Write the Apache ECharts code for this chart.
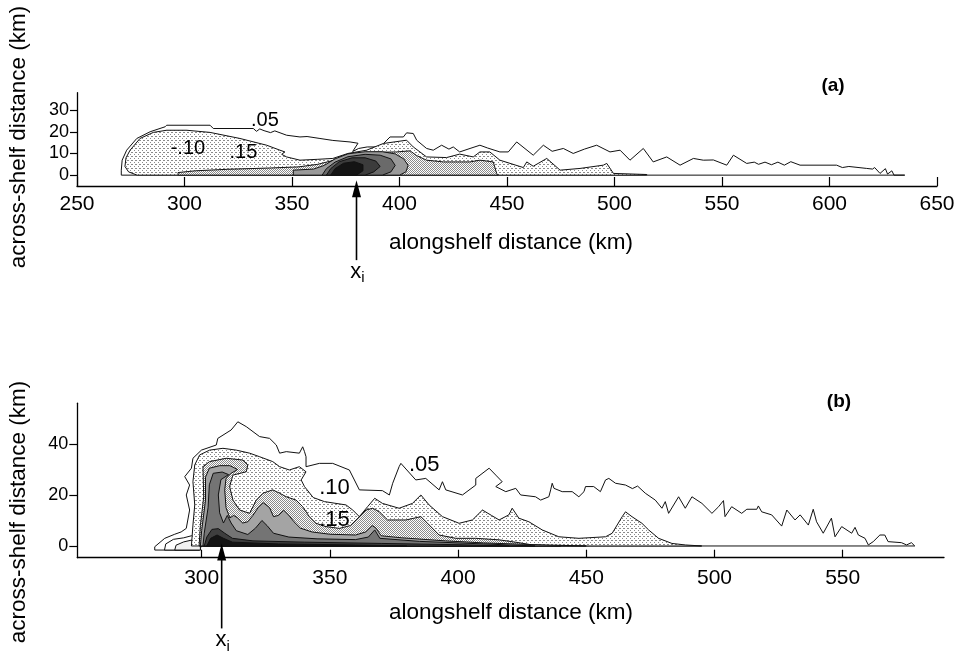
<!DOCTYPE html>
<html><head><meta charset="utf-8">
<script src="https://cdn.jsdelivr.net/npm/echarts@6/dist/echarts.min.js"></script>
<style>html,body{margin:0;padding:0;background:#fff}#c{width:959px;height:654px}</style>
</head><body><div id="c"></div>
<script>
// ---------- tick labels ----------
const xTicksA = [250,300,350,400,450,500,550,600,650];
const yTicksA = [0,10,20,30];
const xTicksB = [300,350,400,450,500,550];
const yTicksB = [0,20,40];

// ---------- panel (a) contours (alongshelf km, across-shelf km) ----------
const contourA05 = [[270.6,0],[270.6,2.3],[271,6.9],[273.1,11.5],[277.8,16.9],[284,20],[291,22.3],[291.7,23],[311.9,23],[313.4,21.5],[332,21.5],[333.5,20.2],[335,21.3],[337,20.5],[340,19.6],[342,20.4],[347.5,18.4],[353.7,17.6],[357,17.8],[363,16.9],[369,16],[377,15.3],[380.7,14.7],[378.2,10.9],[381,12.3],[385,13],[391,13],[395.6,17.6],[401.8,17.6],[403.3,19.5],[406.4,19.2],[408,16.1],[412.6,12.3],[415.7,11.5],[419.6,13.8],[423,12],[425,13],[428,10.7],[432.8,12.3],[437.4,13.8],[441,12.5],[446.7,10.7],[450.6,10.7],[454.5,15.3],[462.2,9.2],[466.9,13.8],[471,11],[476.2,12.3],[480.8,10],[486,12],[491.7,13.8],[497.9,10.7],[502.6,11.5],[507.2,6.9],[513.4,12.3],[518,6.1],[524.3,8.4],[530.5,4.6],[536.7,7.7],[541.3,6.9],[546,7],[552.2,4.6],[555.3,9.2],[561.5,5.4],[565,6],[567,5],[570,6],[573,4.8],[576,6],[579,4.6],[582,6.2],[586.3,4.6],[603.3,4.6],[606,3.5],[609,4],[617.3,3.1],[620,2.8],[621,3.5],[623.5,0.8],[626,3],[627,0.5],[629,2],[630,0],[635,0]];
const contourA10 = [[278,0],[274,1.5],[272.3,4],[272.8,8],[274.7,11.5],[279.3,16.9],[285.5,19.7],[291.7,20.7],[301,20.7],[311.9,19.7],[325.8,16.9],[338.2,13.8],[344.4,11.5],[346.7,10.7],[345.2,9.6],[347.5,8.4],[353.7,6.9],[362,7.3],[369,7.7],[376,10],[384.7,11.5],[392.5,14.6],[403.3,16.1],[406.4,13],[412.6,8.4],[421.9,8.1],[428,9.7],[434.3,8.4],[437.4,10.7],[442,10.7],[446.7,6.9],[457.6,3.5],[459.2,6.1],[462.2,4.1],[468.5,7.7],[474.7,2.3],[484,3.1],[494.8,4.6],[496.4,5.4],[499.5,0.8],[515,0.3],[515,0]];
const contourA15 = [[297,0],[297,1.2],[305,2],[320,2.7],[340,3.3],[353,3.8],[362,5],[370,7],[378,9],[388,10.5],[398.6,10.7],[404.9,11.2],[408,9],[412.6,6.9],[420.4,6.1],[432.8,6.1],[437.4,6.9],[443.6,6.1],[445.2,0.8],[446,0]];
const contourA20 = [[350.6,0],[350.6,2.3],[360,2.8],[365,4.5],[370,7.5],[376,9.8],[384,10.8],[392,10.8],[398,9.8],[402,7.5],[404,4.5],[403,1.5],[400,0]];
const contourA25 = [[364,0],[366,3],[370,6],[376,8.5],[384,9.6],[391,9.2],[396,7.5],[398,4.5],[396,1.5],[392,0]];
const contourA30 = [[366,0],[368,3],[372,6.2],[378,8],[384,8],[389,6.5],[391,4],[388,1.5],[384,0]];
const contourA40 = [[368,0],[370,3],[374,5.5],[379,6.2],[383,4.8],[383,2],[380,0]];

// ---------- panel (b) contours ----------
const contourB05 = [[281.7,-1.6],[281.7,-0.3],[285.6,3],[289.5,4.6],[292,5.5],[294,6.9],[295.3,14.1],[294,20],[295.3,23.9],[293.4,27.2],[296,30.5],[296.6,34.4],[299.9,37.6],[305.7,39.6],[306.3,42.2],[311.5,45.5],[314.1,48.7],[317.4,46.8],[322.6,42.9],[326.5,42.2],[329.1,39.6],[330.4,36.4],[333,37],[338.1,36.4],[339.4,38.9],[340.1,37],[340.7,35],[340.7,31.1],[345.9,32.4],[351.1,32.4],[357.6,29.8],[361.5,22],[370.5,21.7],[373.2,20],[374.5,24.6],[377,31.1],[377.7,32.4],[383.5,25.9],[387.4,26.5],[392.6,22],[393.9,25.2],[395.2,22],[401.7,20],[406.9,23.9],[406.9,26.5],[412.1,30.5],[414.7,27.8],[417.2,25.2],[414.7,23.3],[418.6,21.3],[422.5,22.6],[424.4,20],[430.2,19.3],[432.2,18],[435.4,19.3],[436.1,22],[436.7,24.6],[437.4,22.6],[440.6,21.3],[444.5,21.3],[447.1,19.3],[449.1,21.3],[449.7,23.3],[452.9,23.3],[455.5,21.3],[457.5,25.9],[458.8,26.5],[461.4,24.6],[465.3,23.9],[468,22.5],[470,23.5],[473,20.7],[476.9,18],[479.5,14.8],[480.8,17.4],[482.1,12.8],[486,19.3],[488.6,14.8],[491.2,19.3],[495.1,16.7],[499,12.8],[501.6,15.4],[503.5,17.8],[504.1,11.5],[506.7,15.4],[510.6,12.8],[512.6,14.4],[516.5,14.4],[517.1,15.7],[518.4,13.4],[522.3,12.2],[526.2,7.8],[528.2,14.1],[531.4,10.2],[533.4,12.2],[536.6,8.2],[538.5,14.4],[539.8,9.5],[542.4,5],[545.6,10.9],[547,3.6],[549.6,7.6],[553.5,5],[554.8,7.3],[556.1,4.3],[558.7,3],[560,0.4],[561.9,1.7],[564.5,4.3],[566.4,4.3],[567.7,1.7],[572.9,1.3],[574.9,0.4],[576.8,1.3],[578.1,0],[300,0],[299,-1.6]];
const stepB1 = [[285.5,-1.6],[286,0.8],[289,2.6],[293,3.2],[296,4],[299,4.6],[299.5,-1.6]];
const stepB2 = [[289.5,-1.6],[290,0.3],[293,1.6],[296.5,2.4],[299.5,2.8],[299.5,-1.6]];
const contourB10 = [[296,0],[296.6,8.2],[297.3,16.1],[296.6,25.2],[297.3,31.8],[299.2,35.7],[303.1,37.6],[308.3,38.3],[313.5,37.6],[318.7,36.4],[322.6,35],[327.7,33.1],[330.4,31.1],[334.2,29.8],[338.1,31.1],[340.7,29.1],[338.8,25.9],[340.1,23.3],[343.5,19],[347.9,17.4],[352.4,16.7],[356.3,16.1],[358.9,14.1],[361.5,11.5],[364.7,15.4],[367.5,18.7],[370.5,16.7],[377,14.8],[382.2,16.7],[385.5,20],[388.7,16.1],[393.9,11.5],[400.4,8.9],[405.6,10.2],[409.5,14.1],[413,12],[416,10.2],[419.8,12.2],[421.1,14.8],[423.7,10.9],[427.6,9.5],[432.8,6.3],[439.3,3.6],[447.1,3],[457.5,3.6],[460.1,5],[464,11.5],[465.3,13.4],[467.8,11.5],[471.7,8.9],[474.3,6.3],[478.2,3],[483.4,1],[488.6,0.4],[495,0]];
const contourB15 = [[299,0],[299.5,8],[300.8,19.3],[300.5,31.1],[303.1,33.1],[309.6,34.4],[316.1,33.7],[318,31.8],[317.4,29.1],[312.2,27.8],[310.9,23.3],[312.2,18],[314.8,14.1],[318.7,12.8],[321.3,18],[323.9,20.7],[327.7,22],[330.4,20.7],[333,19.3],[336.8,18],[339.4,15.4],[342,11.5],[344.6,8.9],[348.5,7.6],[353.7,6.9],[358,8],[360.2,10.2],[364.1,14.1],[366.7,14.8],[369.3,13.4],[372.5,10.2],[379.7,10.2],[385.5,11.5],[388.1,8.9],[392.6,4.3],[399.1,3],[406.9,3],[416,2.4],[423.7,1.3],[428.9,0.4],[440,0]];
const contourB20 = [[299.5,0],[300,6],[301.5,18],[301.5,27],[303,30.5],[307,31.5],[311,31.5],[314,30],[311.5,28.5],[309.5,26.5],[309,22],[309.5,15],[311,11],[312.5,12],[314,11],[316,9],[318,9.5],[320,12],[322,15],[324,17],[326.5,15],[328,11.5],[330,12],[332,14],[334,12],[336,9.5],[338.5,7],[343,5.5],[350,4.6],[360,4.3],[364,5.5],[366.5,8],[368,7],[370,4],[378,3.2],[395,2],[410,1.2],[430,0.5],[450,0]];
const contourB25 = [[300.5,0],[301,5],[302.5,15],[303,24],[304.5,28.5],[308,29],[310.5,28],[307.5,26],[306.5,20],[307,13],[308.5,9],[310,12],[311.5,9],[313.5,6],[318,4.5],[321,7],[323.5,10],[325.5,8],[328,5],[334,3.5],[345,2.8],[360,2.5],[365,3.5],[367.5,6.3],[369.5,3],[385,1.8],[410,0.8],[430,0]];
const contourB30 = [[301,0],[302,3.5],[304,6.5],[306.5,6.8],[309,5],[312,3],[320,2],[340,1.5],[370,1],[400,0.5],[420,0]];
const contourB40 = [[302,0],[303.5,3],[306,4.3],[308.5,3],[312,1.5],[330,0.8],[360,0.4],[380,0]];

// ---------- contour labels & injection points ----------
const labelsA = [[337.4,25.3,'.05'],[301.6,12.2,'-.10'],[327.4,10.4,'.15']];
const labelsB = [[386.8,31.8,'.05'],[351.8,22.9,'.10'],[351.8,10.4,'.15']];
const injectionA = [[380,-2.3]];
const injectionB = [[307.8,1.0]];

const FONT = '"Liberation Sans", Arial, Helvetica, sans-serif';

// halftone-like stipple textures
function stipple(dots, color) {
  const c = document.createElement('canvas');
  c.width = 4; c.height = 4;
  const ctx = c.getContext('2d');
  ctx.fillStyle = '#ffffff'; ctx.fillRect(0, 0, 4, 4);
  ctx.fillStyle = color;
  dots.forEach(d => ctx.fillRect(d[0], d[1], 1, 1));
  return {type: 'pattern', image: c, repeat: 'repeat'};
}
const fillLight = stipple([[0,0],[2,2],[3,0]], '#8a8a8a');
const fillMed = stipple([[0,0],[2,0],[1,1],[3,1],[0,2],[2,2],[1,3],[3,3]], '#8a8a8a');

function poly(g, pts, fill) {
  return {
    type: 'custom', xAxisIndex: g, yAxisIndex: g, clip: true, silent: true,
    encode: {x: 0, y: 1}, data: pts,
    renderItem: function (params, api) {
      if (params.dataIndex !== 0) return null;
      return {type: 'polygon', shape: {points: pts.map(p => api.coord(p))},
        style: {fill: fill, stroke: '#111', lineWidth: 1}};
    }
  };
}
function labels(g, arr, size) {
  return {
    type: 'custom', xAxisIndex: g, yAxisIndex: g, silent: true, z: 5,
    encode: {x: 0, y: 1}, data: arr,
    renderItem: function (params, api) {
      const p = api.coord([api.value(0), api.value(1)]);
      return {type: 'text', x: p[0], y: p[1],
        style: {text: arr[params.dataIndex][2], fill: '#000', font: size + 'px ' + FONT,
          align: 'center', verticalAlign: 'middle'}};
    }
  };
}
function arrow(g, arr, len) {
  return {
    type: 'custom', xAxisIndex: g, yAxisIndex: g, silent: true, z: 6, clip: false,
    encode: {x: 0, y: 1}, data: arr,
    renderItem: function (params, api) {
      const p = api.coord([api.value(0), api.value(1)]);
      return {type: 'group', children: [
        {type: 'polygon', shape: {points: [[p[0], p[1]], [p[0] - 4.5, p[1] + 17], [p[0] + 4.5, p[1] + 17]]},
          style: {fill: '#000'}},
        {type: 'line', shape: {x1: p[0], y1: p[1] + 14, x2: p[0], y2: p[1] + len},
          style: {stroke: '#000', lineWidth: 1.6}},
        {type: 'text', x: p[0] + 1, y: p[1] + len + 12,
          style: {text: '{x|x}{i|i}', align: 'center', verticalAlign: 'middle',
            rich: {x: {font: '22px ' + FONT, fill: '#000'},
                   i: {font: '15px ' + FONT, fill: '#000', padding: [12, 0, 0, 0]}}}}
      ]};
    }
  };
}

const axisLine = {show: true, onZero: false, lineStyle: {color: '#000', width: 1.3}};

const option = {
  backgroundColor: '#fff',
  animation: false,
  grid: [
    {left: 77, top: 92.7, width: 860, height: 93.3, outerBoundsMode: 'none'},
    {left: 77.3, top: 403.2, width: 866.7, height: 154.5, outerBoundsMode: 'none'}
  ],
  xAxis: [
    {gridIndex: 0, type: 'value', min: 250, max: 650, interval: 50,
      axisLine: axisLine, splitLine: {show: false},
      axisTick: {show: true, inside: true, length: 9, lineStyle: {color: '#000', width: 1.2}, customValues: xTicksA},
      axisLabel: {margin: 8, color: '#000', fontSize: 21, fontFamily: FONT, customValues: xTicksA}},
    {gridIndex: 1, type: 'value', min: 251.5, max: 589.5,
      axisLine: axisLine, splitLine: {show: false},
      axisTick: {show: true, inside: true, length: 8, lineStyle: {color: '#000', width: 1.2}, customValues: xTicksB},
      axisLabel: {margin: 10, color: '#000', fontSize: 21, fontFamily: FONT, customValues: xTicksB}}
  ],
  yAxis: [
    {gridIndex: 0, type: 'value', min: -5, max: 38,
      axisLine: axisLine, splitLine: {show: false},
      axisTick: {show: true, inside: false, length: 7, lineStyle: {color: '#000', width: 1.2}, customValues: yTicksA},
      axisLabel: {margin: 8, color: '#000', fontSize: 18, fontFamily: FONT, customValues: yTicksA}},
    {gridIndex: 1, type: 'value', min: -4.6, max: 56,
      axisLine: axisLine, splitLine: {show: false},
      axisTick: {show: true, inside: false, length: 8, lineStyle: {color: '#000', width: 1.2}, customValues: yTicksB},
      axisLabel: {margin: 9, color: '#000', fontSize: 18, fontFamily: FONT, customValues: yTicksB}}
  ],
  graphic: [
    {type: 'text', x: 511, y: 243, style: {text: 'alongshelf distance (km)', font: '22.5px ' + FONT, fill: '#000', align: 'center', verticalAlign: 'middle'}},
    {type: 'text', x: 511, y: 613, style: {text: 'alongshelf distance (km)', font: '22.5px ' + FONT, fill: '#000', align: 'center', verticalAlign: 'middle'}},
    {type: 'text', x: 19, y: 137, rotation: Math.PI / 2, style: {text: 'across-shelf distance (km)', font: '22.5px ' + FONT, fill: '#000', align: 'center', verticalAlign: 'middle'}},
    {type: 'text', x: 19, y: 512, rotation: Math.PI / 2, style: {text: 'across-shelf distance (km)', font: '22.5px ' + FONT, fill: '#000', align: 'center', verticalAlign: 'middle'}},
    {type: 'text', x: 833, y: 86, style: {text: '(a)', font: 'bold 19px ' + FONT, fill: '#000', align: 'center', verticalAlign: 'middle'}},
    {type: 'text', x: 839, y: 402, style: {text: '(b)', font: 'bold 19px ' + FONT, fill: '#000', align: 'center', verticalAlign: 'middle'}}
  ],
  series: [
    poly(0, contourA05, '#ffffff'),
    poly(0, contourA10, fillLight),
    poly(0, contourA15, fillMed),
    poly(0, contourA20, '#9a9a9a'),
    poly(0, contourA25, '#6a6a6a'),
    poly(0, contourA30, '#3c3c3c'),
    poly(0, contourA40, '#141414'),
    labels(0, labelsA, 20),
    arrow(0, injectionA, 80),
    poly(1, contourB05, '#ffffff'),
    poly(1, stepB1, '#ffffff'),
    poly(1, stepB2, '#f2f2f2'),
    poly(1, contourB10, fillLight),
    poly(1, contourB15, fillMed),
    poly(1, contourB20, '#a4a4a4'),
    poly(1, contourB25, '#747474'),
    poly(1, contourB30, '#3e3e3e'),
    poly(1, contourB40, '#141414'),
    labels(1, labelsB, 22),
    arrow(1, injectionB, 85)
  ]
};
const chart = echarts.init(document.getElementById('c'), null, {renderer: 'canvas'});
chart.setOption(option);
</script></body></html>
